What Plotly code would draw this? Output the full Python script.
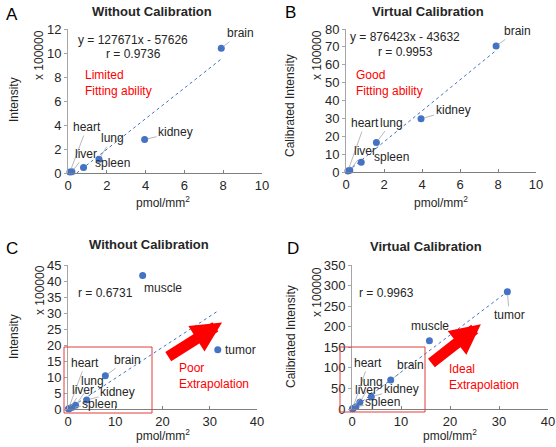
#%%
import plotly.graph_objects as go

W, H = 556, 447

# data (intensity in units of 100000)
organs = ['heart', 'liver', 'spleen', 'lung', 'kidney', 'brain', 'muscle', 'tumor']
pmol = [0.1, 0.2, 0.8, 1.6, 3.95, 7.9, 15.8, 31.7]
intensity_raw = [0.08, 0.1, 0.45, 1.15, 2.8, 10.4, 41.7, 18.5]
intensity_cal = [0.5, 1.0, 5.5, 16.5, 29.8, 70.5, 166, 285]

# trend line end points
trend_a_x, trend_a_y = [0.45, 7.9], [0, 9.5]
trend_b_x, trend_b_y = [0.1, 7.9], [0.4, 68.0]
trend_c_x, trend_c_y = [0.1, 31.7], [0, 30.6]
trend_d_x, trend_d_y = [0.1, 31.7], [0.5, 285]

blue = '#4472C4'
red = '#FF0000'
txt = '#262626'
font = 'Arial, Liberation Sans, sans-serif'

def fx(p):
    return p / W

def fy(p):
    return 1 - p / H

def paper_text(x, y, text, size=12, color=txt, angle=0, xanchor='center', align='center'):
    fig.add_annotation(x=fx(x), y=fy(y), xref='paper', yref='paper', text=text, showarrow=False,
                       xanchor=xanchor, yanchor='middle', align=align, textangle=angle,
                       font=dict(family=font, size=size, color=color))

# label offsets in px (dx, dy, leader line)
offs_a = [(17, -45, True), (14, -18, True), (29, -5, False), (13, -21, True), (31, -7, True), (19, -15, True)]
offs_b = [(17, -48, True), (15, -19, True), (30, -5, False), (15, -20, True), (32, -9, True), (21, -15, True)]
offs_c = [(17, -46, True), (14, -19, True), (28, -4, True), (17, -24, True), (31, -8, True), (22, -16, True),
          (20, 12, False), (23, 0, False)]
offs_d = [(16, -46, True), (13, -19, True), (27, -5, True), (12, -20, True), (30, -8, True), (20, -15, True),
          (1, -15, False), (2, 23, True)]

panels = [
    dict(n='', dom_x=(68, 262), dom_y=(29, 173), xr=[0, 10], yr=[0, 12], xd=2, yd=2, npts=6,
         y=intensity_raw, tx=trend_a_x, ty=trend_a_y, offs=offs_a, title='Without Calibration',
         tpos=(152, 12), letter='A', lpos=(12, 14), ytitle='Intensity', ytpos=(14, 100), xt=(39, 55),
         xtitle=(163, 202)),
    dict(n='2', dom_x=(346, 536), dom_y=(29, 172), xr=[0, 10], yr=[0, 80], xd=2, yd=10, npts=6,
         y=intensity_cal, tx=trend_b_x, ty=trend_b_y, offs=offs_b, title='Virtual Calibration',
         tpos=(428, 12), letter='B', lpos=(290, 13), ytitle='Calibrated Intensity', ytpos=(290, 106),
         xt=(317, 55), xtitle=(441, 202)),
    dict(n='3', dom_x=(68, 257), dom_y=(265, 409), xr=[0, 40], yr=[0, 45], xd=10, yd=5, npts=8,
         y=intensity_raw, tx=trend_c_x, ty=trend_c_y, offs=offs_c, title='Without Calibration',
         tpos=(149, 245), letter='C', lpos=(12, 248), ytitle='Intensity', ytpos=(14, 337), xt=(40, 290),
         xtitle=(163, 435)),
    dict(n='4', dom_x=(352, 548), dom_y=(265, 409), xr=[0, 40], yr=[0, 350], xd=10, yd=50, npts=8,
         y=intensity_cal, tx=trend_d_x, ty=trend_d_y, offs=offs_d, title='Virtual Calibration',
         tpos=(426, 246), letter='D', lpos=(293, 248), ytitle='Calibrated Intensity', ytpos=(291, 337),
         xt=(317, 292), xtitle=(450, 435)),
]

fig = go.Figure()

for p in panels:
    xa, ya = 'x' + p['n'], 'y' + p['n']
    k = p['npts']
    fig.add_trace(go.Scatter(x=p['tx'], y=p['ty'], mode='lines', xaxis=xa, yaxis=ya,
                             line=dict(color=blue, width=1, dash='dot'), showlegend=False))
    fig.add_trace(go.Scatter(x=pmol[:k], y=p['y'][:k], mode='markers', xaxis=xa, yaxis=ya,
                             marker=dict(color=blue, size=7), showlegend=False, cliponaxis=False))
    fig.update_layout({
        'xaxis' + p['n']: dict(domain=[fx(p['dom_x'][0]), fx(p['dom_x'][1])], range=p['xr'], dtick=p['xd'],
                               anchor=ya, showgrid=False, zeroline=False, showline=True, linecolor='#7f7f7f',
                               ticks='inside', ticklen=3, tickcolor='#7f7f7f', automargin=False,
                               tickfont=dict(family=font, size=13, color=txt)),
        'yaxis' + p['n']: dict(domain=[fy(p['dom_y'][1]), fy(p['dom_y'][0])], range=p['yr'], dtick=p['yd'],
                               anchor=xa, showgrid=False, zeroline=False, showline=True, linecolor='#a6a6a6',
                               ticks='outside', ticklen=3, tickcolor='#a6a6a6', automargin=False,
                               tickfont=dict(family=font, size=13, color=txt)),
    })
    # organ labels
    for name, xv, yv, (dx, dy, lead) in zip(organs[:k], pmol[:k], p['y'][:k], p['offs']):
        fig.add_annotation(x=xv, y=yv, xref=xa, yref=ya, text=name, showarrow=True, arrowhead=0,
                           arrowwidth=0.8, arrowcolor='#a6a6a6' if lead else 'rgba(0,0,0,0)',
                           ax=dx, ay=dy, standoff=3, font=dict(family=font, size=12, color=txt))
    # titles and axis texts
    paper_text(p['tpos'][0], p['tpos'][1], '<b>' + p['title'] + '</b>', size=13)
    paper_text(p['lpos'][0], p['lpos'][1], p['letter'], size=17, color='black')
    paper_text(p['ytpos'][0], p['ytpos'][1], p['ytitle'], angle=-90)
    paper_text(p['xt'][0], p['xt'][1], 'x 100000', angle=-90)
    paper_text(p['xtitle'][0], p['xtitle'][1], 'pmol/mm<sup>2</sup>')

# fit equations
paper_text(133, 40, 'y = 127671x - 57626')
paper_text(133, 54, 'r = 0.9736')
paper_text(405, 37, 'y = 876423x - 43632')
paper_text(405, 52, 'r = 0.9953')
paper_text(105, 293, 'r = 0.6731')
paper_text(386, 293, 'r = 0.9963')

# red remarks
for lx, ly, t in [(83, 83, 'Limited<br>Fitting ability'), (354, 83, 'Good<br>Fitting ability'),
                  (177, 376, 'Poor<br>Extrapolation'), (447, 377, 'Ideal<br>Extrapolation')]:
    paper_text(lx, ly, t, color=red, xanchor='left', align='left')

# red boxes
for x0, x1, y0, y1 in [(64, 152, 347, 413), (340, 425, 347, 412)]:
    fig.add_shape(type='rect', xref='paper', yref='paper', x0=fx(x0), x1=fx(x1), y0=fy(y1), y1=fy(y0),
                  line=dict(color='#E03C3C', width=1))

# red arrows
fig.add_annotation(x=32.6, y=27.0, xref='x3', yref='y3', ax=20.9, ay=16.1, axref='x3', ayref='y3',
                   text='', showarrow=True, arrowhead=2, arrowsize=0.55, arrowwidth=11, arrowcolor=red)
fig.add_annotation(x=26.3, y=206, xref='x4', yref='y4', ax=15.9, ay=109, axref='x4', ayref='y4',
                   text='', showarrow=True, arrowhead=2, arrowsize=0.55, arrowwidth=11, arrowcolor=red)

fig.update_layout(width=W, height=H, margin=dict(l=0, r=0, t=0, b=0),
                  plot_bgcolor='white', paper_bgcolor='white')

# page body has a default 8px margin; remove it so the figure sits at the window corner
fig.write_html("out.html", config={'displayModeBar': False},
               post_script="document.body.style.margin='0';")
